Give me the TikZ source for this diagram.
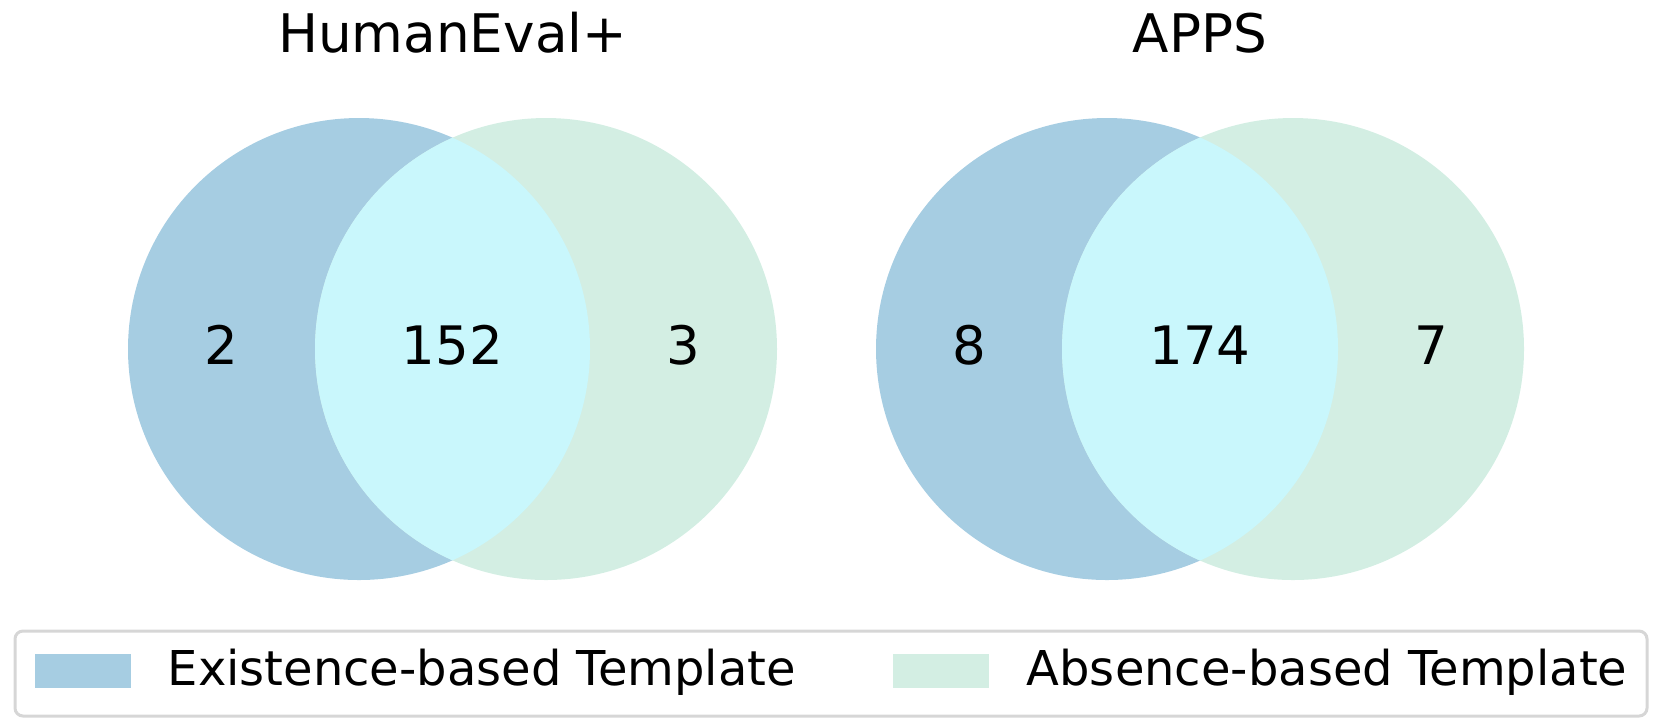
\documentclass[tikz,border=0pt]{standalone}
\usepackage{fontspec}
\setmainfont{DejaVu Sans}
\usetikzlibrary{positioning}
\definecolor{existfill}{RGB}{166,205,226}
\definecolor{absentfill}{RGB}{211,238,227}
\definecolor{bothfill}{RGB}{201,247,252}
\definecolor{framegray}{RGB}{214,214,214}
\tikzset{
    titlelabel/.style={
        inner sep=0pt, anchor=base, font=\fontsize{15.95}{18}\selectfont
    },
    countlabel/.style={
        titlelabel, font=\fontsize{15.9}{18}\selectfont
    },
    legendtext/.style={
        inner sep=0pt, anchor=base west, font=\fontsize{14.4}{17}\selectfont
    },
    legendpatch/.style={
        rectangle, draw=none, inner sep=0pt,
        minimum width=28.8pt, minimum height=10.2pt
    },
    legendframe/.style={draw=framegray, line width=0.9pt, rounded corners=2.4pt}
}

\begin{document}
\begin{tikzpicture}[x=0.3pt, y=-0.3pt]
\useasboundingbox (0,0) rectangle (1661,719);

% Left: HumanEval+
\coordinate (hleft) at (359,349);
\coordinate (hright) at (546,349);
\fill[existfill] (hleft) circle (231);
\fill[absentfill] (hright) circle (231);
\begin{scope}
    \clip (hleft) circle (231);
    \fill[bothfill] (hright) circle (231);
\end{scope}
\node[titlelabel] (htitle) at (452.5,52) {HumanEval+};
\node[countlabel] (honly) at (221.5,364.5) {2};
\node[countlabel] (hboth) at (452.5,364.5) {152};
\node[countlabel] (hnot) at (683.5,364.5) {3};

% Right: APPS
\coordinate (aleft) at (1107,349);
\coordinate (aright) at (1293,349);
\fill[existfill] (aleft) circle (231);
\fill[absentfill] (aright) circle (231);
\begin{scope}
    \clip (aleft) circle (231);
    \fill[bothfill] (aright) circle (231);
\end{scope}
\node[titlelabel] (atitle) at (1200,52) {APPS};
\node[countlabel] (aonly) at (969,364.5) {8};
\node[countlabel] (aboth) at (1200,364.5) {174};
\node[countlabel] (anot) at (1431,364.5) {7};

% Legend
\draw[legendframe] (15,631) rectangle (1647,716);
\node[legendpatch, fill=existfill] (existpatch) at (83,671) {};
\node[legendtext] (existtext) at (167,685) {Existence-based Template};
\node[legendpatch, fill=absentfill] (absentpatch) at (941,671) {};
\node[legendtext] (absenttext) at (1026,685) {Absence-based Template};

\end{tikzpicture}
\end{document}
